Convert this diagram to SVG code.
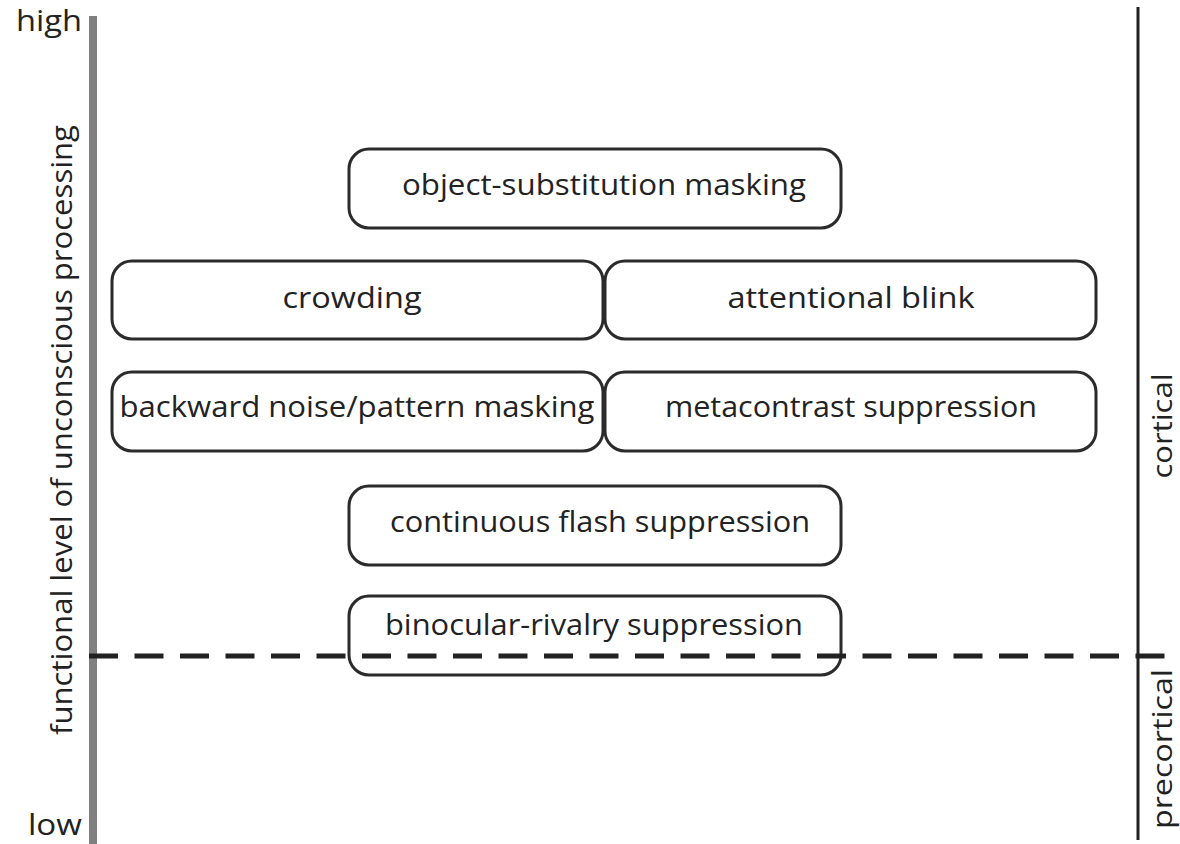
<svg xmlns="http://www.w3.org/2000/svg" width="1180" height="844" viewBox="0 0 1180 844">
<style>
.box{fill:#fff;stroke:#2b2b2b;stroke-width:3}
.lbl{font-family:"Open Sans","Liberation Sans",sans-serif;font-size:30px;fill:#222;text-anchor:middle}
.ax{font-family:"Open Sans","Liberation Sans",sans-serif;font-size:30px;fill:#222;text-anchor:middle}
.side{font-family:"Open Sans","Liberation Sans",sans-serif;font-size:27px;fill:#222;text-anchor:middle}
</style>
<rect width="1180" height="844" fill="#fff"/>
<g id="axes">
<rect x="89" y="16" width="8" height="828" fill="#808080"/>
<line x1="1138" y1="7" x2="1138" y2="840" stroke="#222" stroke-width="3"/>
<text class="ax" x="49" y="31" textLength="66" lengthAdjust="spacingAndGlyphs">high</text>
<text class="ax" x="55" y="835" font-size="28" textLength="54" lengthAdjust="spacingAndGlyphs">low</text>
<text class="ax" transform="translate(72,430) rotate(-90)" textLength="610" lengthAdjust="spacingAndGlyphs">functional level of unconscious processing</text>
<text class="side" transform="translate(1172,426) rotate(-90)" textLength="105" lengthAdjust="spacingAndGlyphs">cortical</text>
<text class="side" transform="translate(1172,749) rotate(-90)" textLength="160" lengthAdjust="spacingAndGlyphs">precortical</text>
</g>
<g id="n1"><rect class="box" x="349" y="149" width="492" height="79" rx="20"/><text class="lbl" x="604" y="195" textLength="404" lengthAdjust="spacingAndGlyphs">object-substitution masking</text></g>
<g id="n2"><rect class="box" x="112" y="261" width="491" height="78" rx="20"/><text class="lbl" x="352" y="308" textLength="139" lengthAdjust="spacingAndGlyphs">crowding</text></g>
<g id="n3"><rect class="box" x="605" y="261" width="491" height="78" rx="20"/><text class="lbl" x="851" y="308" textLength="247" lengthAdjust="spacingAndGlyphs">attentional blink</text></g>
<g id="n4"><rect class="box" x="112" y="372" width="491" height="79" rx="20"/><text class="lbl" x="357" y="417" textLength="475" lengthAdjust="spacingAndGlyphs">backward noise/pattern masking</text></g>
<g id="n5"><rect class="box" x="605" y="372" width="491" height="79" rx="20"/><text class="lbl" x="851" y="417" textLength="372" lengthAdjust="spacingAndGlyphs">metacontrast suppression</text></g>
<g id="n6"><rect class="box" x="349" y="486" width="492" height="79" rx="20"/><text class="lbl" x="600" y="532" textLength="420" lengthAdjust="spacingAndGlyphs">continuous flash suppression</text></g>
<g id="n7"><rect class="box" x="349" y="596" width="492" height="79" rx="20"/><text class="lbl" x="594" y="635" textLength="418" lengthAdjust="spacingAndGlyphs">binocular-rivalry suppression</text></g>
<g id="connectors">
<line x1="89" y1="656" x2="1180" y2="656" stroke="#222" stroke-width="5" stroke-dasharray="29 16.5"/>
</g>
</svg>
